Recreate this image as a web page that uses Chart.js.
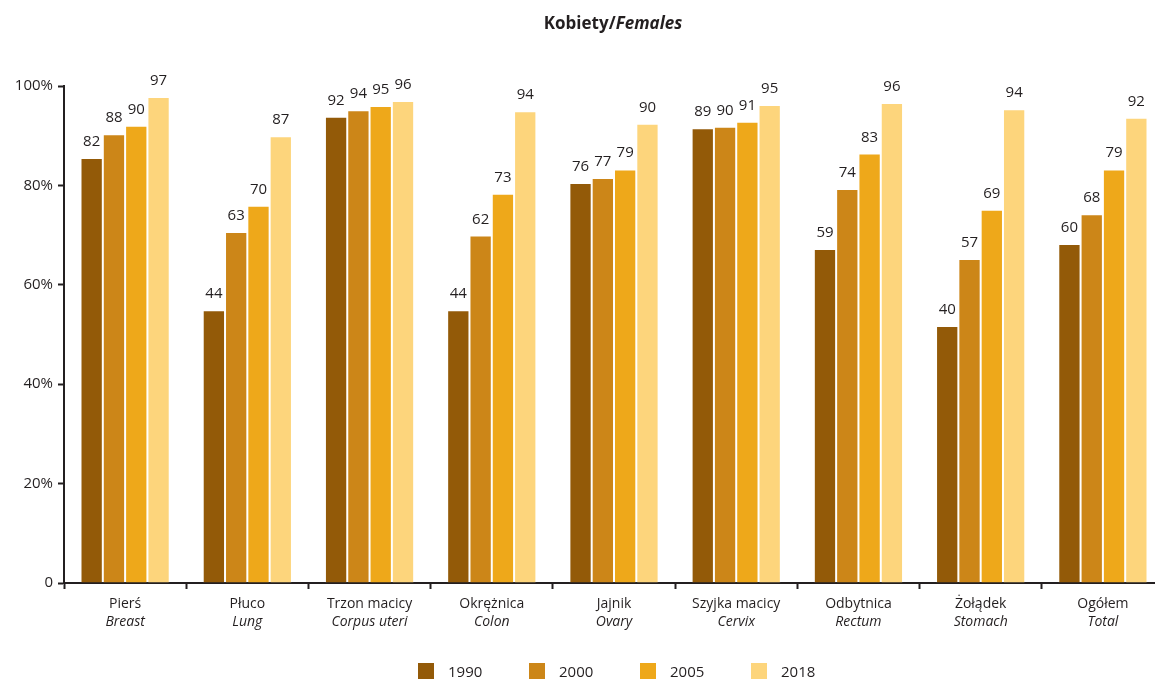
<!DOCTYPE html>
<html>
<head>
<meta charset="utf-8">
<script src="https://cdn.jsdelivr.net/npm/chart.js@4.4.1/dist/chart.umd.min.js"></script>
<style>
  html, body { margin:0; padding:0; background:#fff; overflow:hidden; }
  #wrap { position:relative; width:1164px; height:681px; }
</style>
</head>
<body>
<div id="wrap"><canvas id="myChart"></canvas></div>
<script>
// categories (Polish / English)
const catsPl = ['Pierś','Płuco','Trzon macicy','Okrężnica','Jajnik','Szyjka macicy','Odbytnica','Żołądek','Ogółem'];
const catsEn = ['Breast','Lung','Corpus uteri','Colon','Ovary','Cervix','Rectum','Stomach','Total'];
const years = ['1990','2000','2005','2018'];
const colors = ['#935a08','#cc8618','#eea81a','#fdd57c'];

// bar heights as drawn (%)
const v1990 = [85.5, 54.9, 93.8, 54.9, 80.5, 91.5, 67.2, 51.7, 68.2];
const v2000 = [90.3, 70.6, 95.1, 69.9, 81.5, 91.8, 79.3, 65.2, 74.2];
const v2005 = [92.0, 75.9, 96.0, 78.3, 83.2, 92.8, 86.4, 75.1, 83.2];
const v2018 = [97.8, 89.9, 97.0, 94.9, 92.4, 96.2, 96.6, 95.3, 93.6];

// printed labels above bars
const l1990 = [82, 44, 92, 44, 76, 89, 59, 40, 60];
const l2000 = [88, 63, 94, 62, 77, 90, 74, 57, 68];
const l2005 = [90, 70, 95, 73, 79, 91, 83, 69, 79];
const l2018 = [97, 87, 96, 94, 90, 95, 96, 94, 92];

const yTicks = [0, 20, 40, 60, 80, 100];

const values = [v1990, v2000, v2005, v2018];
const labels = [l1990, l2000, l2005, l2018];
const FONT = '"Open Sans", "Noto Sans", sans-serif';
const INK = '#231f20';

const extras = {
  id:'extras',
  afterDatasetsDraw(chart){
    const ctx = chart.ctx;
    ctx.save();
    ctx.fillStyle = INK;
    ctx.textAlign = 'center';
    ctx.textBaseline = 'alphabetic';
    ctx.font = '15px ' + FONT;
    chart.data.datasets.forEach((ds, i) => {
      chart.getDatasetMeta(i).data.forEach((bar, j) => {
        ctx.fillText(String(labels[i][j]), bar.x, bar.y - 12);
      });
    });
    // category labels
    const xs = chart.scales.x;
    catsPl.forEach((c, j) => {
      const x = xs.getPixelForValue(j);
      ctx.font = '14px ' + FONT;
      ctx.fillText(c, x, 608);
      ctx.font = 'italic 14px ' + FONT;
      ctx.fillText(catsEn[j], x, 626);
    });
    // title
    const a = 'Kobiety/';
    ctx.font = 'bold 17px ' + FONT;
    const wa = ctx.measureText(a).width;
    ctx.font = 'italic bold 17px ' + FONT;
    const wb = ctx.measureText('Females').width;
    let tx = 613 - (wa + wb) / 2;
    ctx.textAlign = 'left';
    ctx.font = 'bold 17px ' + FONT;
    ctx.fillText(a, tx, 29);
    ctx.font = 'italic bold 17px ' + FONT;
    ctx.fillText('Females', tx + wa, 29);
    // legend
    ctx.font = '15px ' + FONT;
    years.forEach((y, i) => {
      const lx = 418 + i * 111;
      ctx.fillStyle = colors[i];
      ctx.fillRect(lx, 663, 16, 16);
      ctx.fillStyle = INK;
      ctx.fillText(y, lx + 30, 677);
    });
    ctx.restore();
  }
};

new Chart(document.getElementById('myChart'), {
  type:'bar',
  data:{
    labels: catsPl,
    datasets: years.map((y, i) => ({
      label: y,
      data: values[i],
      backgroundColor: colors[i],
      borderColor: 'rgba(255,255,255,0.25)',
      borderWidth: 1,
      barPercentage: 1,
      categoryPercentage: 0.73
    }))
  },
  options:{
    responsive:true,
    maintainAspectRatio:false,
    animation:false,
    layout:{ padding:{ top:86, left:0, right:0, bottom:0 } },
    plugins:{ legend:{ display:false }, title:{ display:false }, tooltip:{ enabled:false } },
    scales:{
      x:{
        grid:{ display:true, drawOnChartArea:false, offset:true, tickLength:6, tickColor:INK, tickWidth:2 },
        border:{ color:INK, width:2 },
        ticks:{ callback:() => '' },
        afterFit(s){ s.height = 98; }
      },
      y:{
        min:0, max:100,
        afterBuildTicks(s){ s.ticks = yTicks.map(v => ({ value:v })); },
        grid:{ drawOnChartArea:false, tickLength:6, tickColor:INK, tickWidth:2 },
        border:{ color:INK, width:2 },
        ticks:{
          color:INK, padding:5,
          font:{ family:FONT, size:15 },
          callback:v => v === 0 ? '0' : v + '%'
        },
        afterFit(s){ s.width = 64; }
      }
    }
  },
  plugins:[extras]
});
</script>
</body>
</html>
